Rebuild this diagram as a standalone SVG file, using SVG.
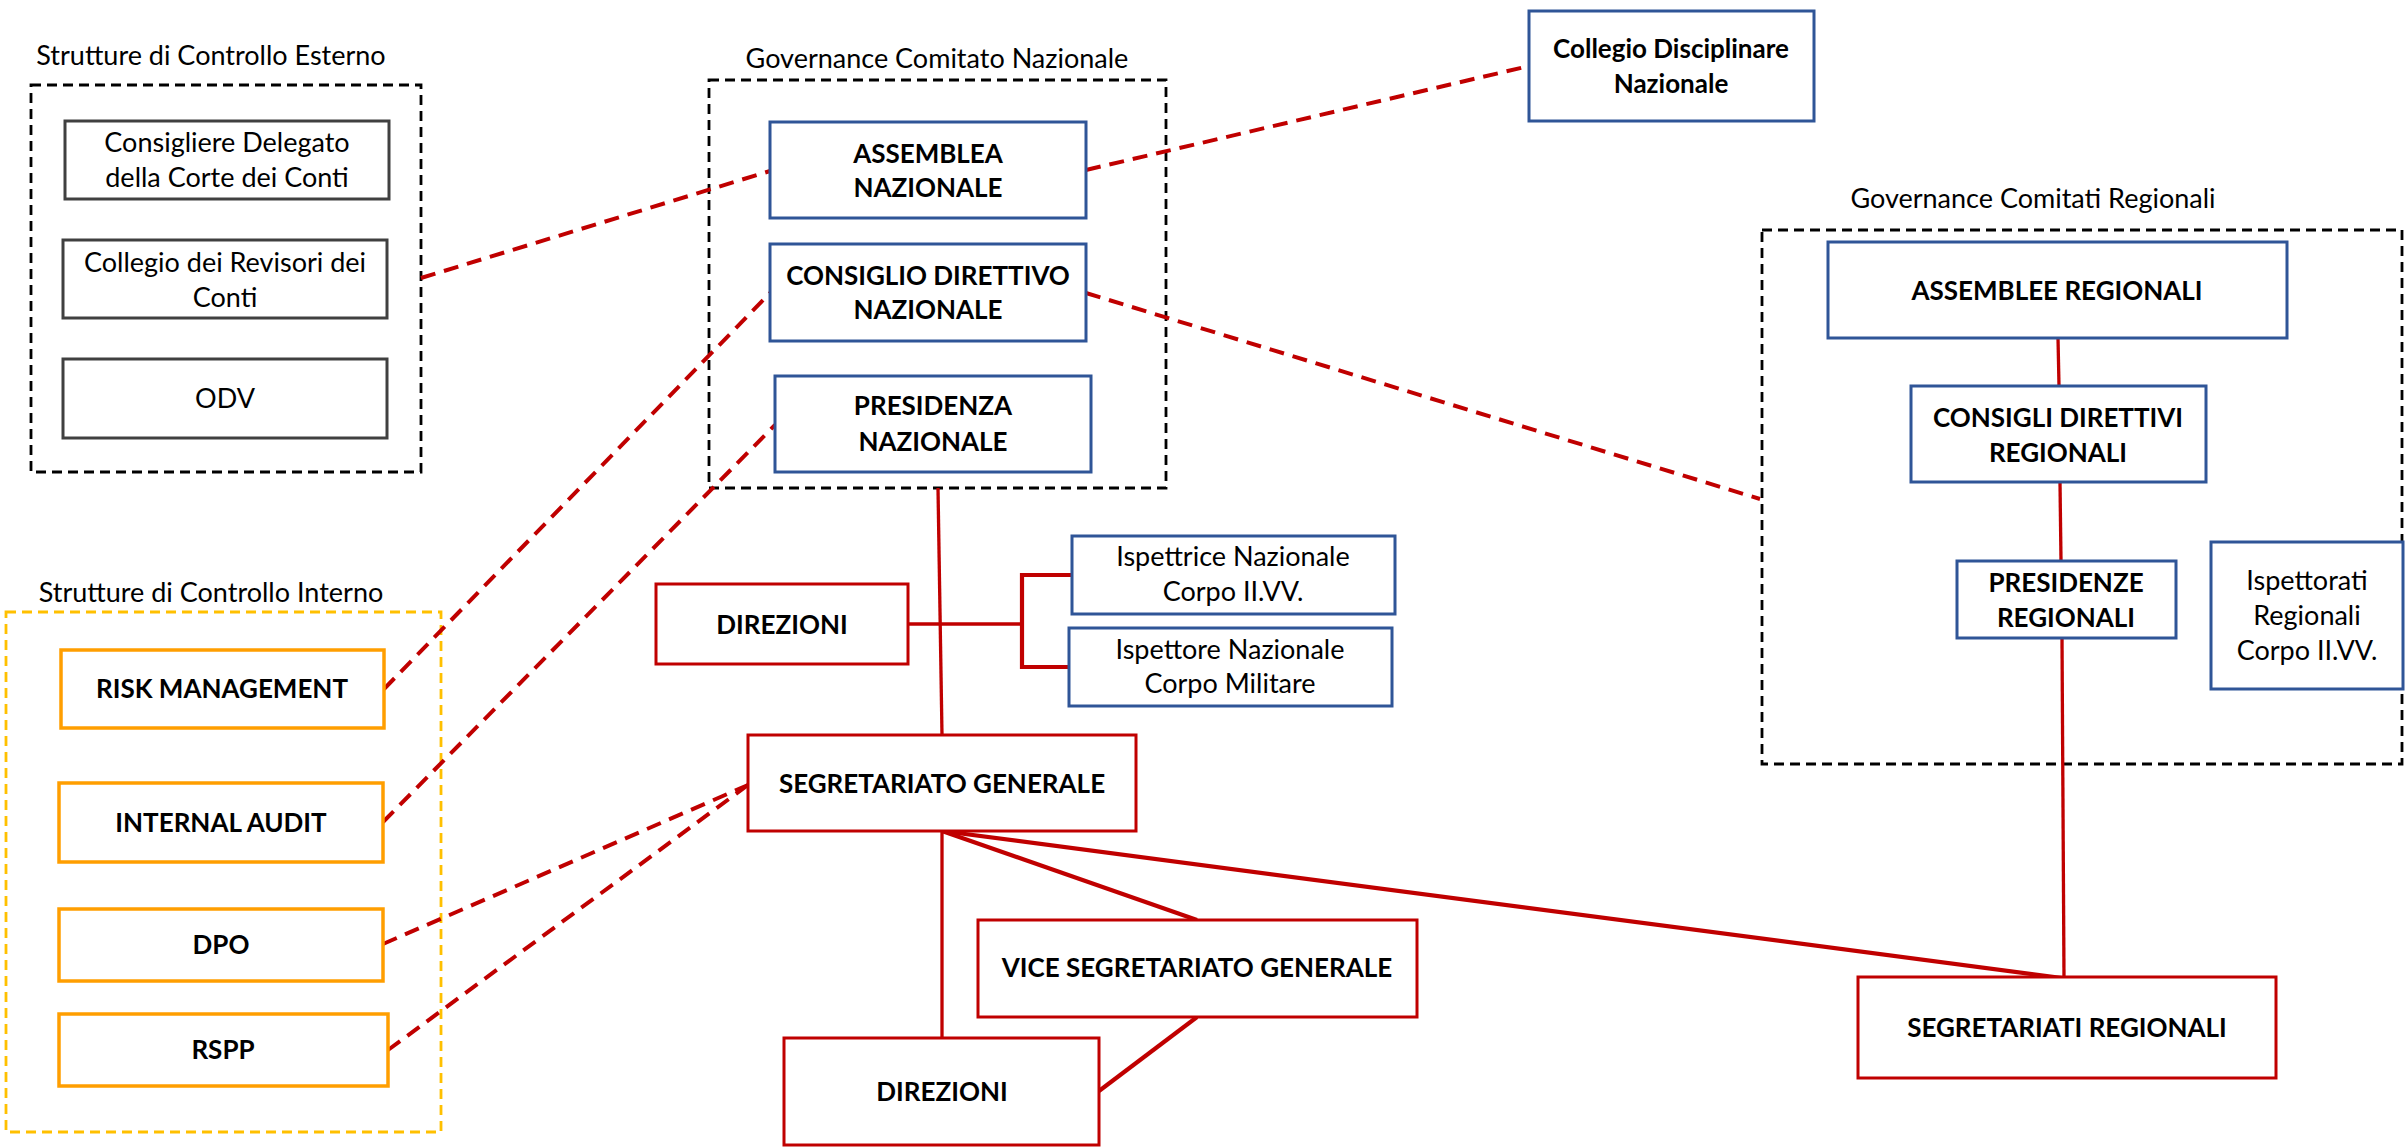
<svg xmlns="http://www.w3.org/2000/svg" width="2407" height="1147" viewBox="0 0 2407 1147">
<style>
text{font-family:Lato,"Liberation Sans",sans-serif;font-size:27px;fill:#000;text-anchor:middle}
.b{font-weight:bold;font-size:26px}
.grp{fill:none;stroke:#000;stroke-width:2.8;stroke-dasharray:10 6}
.grpy{fill:none;stroke:#FFC000;stroke-width:2.8;stroke-dasharray:10 6}
.gray{fill:#fff;stroke:#404040;stroke-width:3}
.blue{fill:#fff;stroke:#2F5597;stroke-width:3}
.red{fill:#fff;stroke:#C00000;stroke-width:3}
.orange{fill:#fff;stroke:#FF9E00;stroke-width:3.5}
.dash{fill:none;stroke:#C00000;stroke-width:4;stroke-dasharray:15 9}
.sol{fill:none;stroke:#C00000;stroke-width:3.3}
.thick{fill:none;stroke:#C00000;stroke-width:4.2}
</style>
<rect width="2407" height="1147" fill="#fff"/>
<g id="groups">
<g id="grp-esterno"><rect class="grp" x="31" y="85" width="390" height="387"/><text x="211" y="65">Strutture di Controllo Esterno</text></g>
<g id="grp-nazionale"><rect class="grp" x="709" y="80" width="457" height="408"/><text x="937" y="68">Governance Comitato Nazionale</text></g>
<g id="grp-regionali"><rect class="grp" x="1762" y="230" width="640" height="534"/><text x="2033" y="208">Governance Comitati Regionali</text></g>
<g id="grp-interno"><rect class="grpy" x="6" y="612" width="435" height="520"/><text x="211" y="602">Strutture di Controllo Interno</text></g>
</g>
<g id="connectors">
<line class="dash" x1="421" y1="278" x2="770" y2="171"/>
<line class="dash" x1="1086" y1="170" x2="1529" y2="66"/>
<line class="dash" x1="1086" y1="293" x2="1760" y2="499"/>
<line class="dash" x1="384" y1="689" x2="770" y2="293"/>
<line class="dash" x1="383" y1="822" x2="775" y2="425"/>
<line class="dash" x1="383" y1="944" x2="748" y2="785"/>
<line class="dash" x1="388" y1="1050" x2="748" y2="785"/>
<line class="sol" x1="938" y1="488" x2="942" y2="735"/>
<polyline class="sol" points="908,624 1022,624"/>
<polyline class="thick" points="1072,575 1022,575 1022,667 1069,667"/>
<line class="sol" x1="942" y1="831" x2="942" y2="1038"/>
<line class="thick" x1="942" y1="831" x2="1197" y2="920"/>
<line class="thick" x1="942" y1="831" x2="2062" y2="978"/>
<line class="thick" x1="1197" y1="1017" x2="1099" y2="1091"/>
<line class="sol" x1="2058" y1="338" x2="2059" y2="386"/>
<line class="sol" x1="2060" y1="482" x2="2061" y2="561"/>
<line class="sol" x1="2062" y1="638" x2="2064" y2="978"/>
</g>
<g id="n-corte"><rect class="gray" x="65" y="121" width="324" height="78"/><text x="227" y="152">Consigliere Delegato</text><text x="227" y="187">della Corte dei Conti</text></g>
<g id="n-revisori"><rect class="gray" x="63" y="240" width="324" height="78"/><text x="225" y="272">Collegio dei Revisori dei</text><text x="225" y="307">Conti</text></g>
<g id="n-odv"><rect class="gray" x="63" y="359" width="324" height="79"/><text x="225" y="408">ODV</text></g>
<g id="n-assemblea"><rect class="blue" x="770" y="122" width="316" height="96"/><text class="b" x="928" y="163">ASSEMBLEA</text><text class="b" x="928" y="197">NAZIONALE</text></g>
<g id="n-consiglio"><rect class="blue" x="770" y="244" width="316" height="97"/><text class="b" x="928" y="285">CONSIGLIO DIRETTIVO</text><text class="b" x="928" y="319">NAZIONALE</text></g>
<g id="n-presidenza"><rect class="blue" x="775" y="376" width="316" height="96"/><text class="b" x="933" y="415">PRESIDENZA</text><text class="b" x="933" y="451">NAZIONALE</text></g>
<g id="n-disciplinare"><rect class="blue" x="1529" y="11" width="285" height="110"/><text class="b" x="1671" y="58">Collegio Disciplinare</text><text class="b" x="1671" y="93">Nazionale</text></g>
<g id="n-assemblee-reg"><rect class="blue" x="1828" y="242" width="459" height="96"/><text class="b" x="2057" y="300">ASSEMBLEE REGIONALI</text></g>
<g id="n-consigli-reg"><rect class="blue" x="1911" y="386" width="295" height="96"/><text class="b" x="2058" y="427">CONSIGLI DIRETTIVI</text><text class="b" x="2058" y="462">REGIONALI</text></g>
<g id="n-presidenze-reg"><rect class="blue" x="1957" y="561" width="219" height="77"/><text class="b" x="2066" y="592">PRESIDENZE</text><text class="b" x="2066" y="627">REGIONALI</text></g>
<g id="n-ispettorati"><rect class="blue" x="2211" y="542" width="192" height="147"/><text x="2307" y="590">Ispettorati</text><text x="2307" y="625">Regionali</text><text x="2307" y="660">Corpo II.VV.</text></g>
<g id="n-risk"><rect class="orange" x="61" y="650" width="323" height="78"/><text class="b" x="222" y="698">RISK MANAGEMENT</text></g>
<g id="n-audit"><rect class="orange" x="59" y="783" width="324" height="79"/><text class="b" x="221" y="832">INTERNAL AUDIT</text></g>
<g id="n-dpo"><rect class="orange" x="59" y="909" width="324" height="72"/><text class="b" x="221" y="954">DPO</text></g>
<g id="n-rspp"><rect class="orange" x="59" y="1014" width="329" height="72"/><text class="b" x="223" y="1059">RSPP</text></g>
<g id="n-direzioni1"><rect class="red" x="656" y="584" width="252" height="80"/><text class="b" x="782" y="634">DIREZIONI</text></g>
<g id="n-ispettrice"><rect class="blue" x="1072" y="536" width="323" height="78"/><text x="1233" y="566">Ispettrice Nazionale</text><text x="1233" y="601">Corpo II.VV.</text></g>
<g id="n-ispettore"><rect class="blue" x="1069" y="628" width="323" height="78"/><text x="1230" y="659">Ispettore Nazionale</text><text x="1230" y="693">Corpo Militare</text></g>
<g id="n-segretariato"><rect class="red" x="748" y="735" width="388" height="96"/><text class="b" x="942" y="793">SEGRETARIATO GENERALE</text></g>
<g id="n-vice"><rect class="red" x="978" y="920" width="439" height="97"/><text class="b" x="1197" y="977">VICE SEGRETARIATO GENERALE</text></g>
<g id="n-direzioni2"><rect class="red" x="784" y="1038" width="315" height="107"/><text class="b" x="942" y="1101">DIREZIONI</text></g>
<g id="n-segr-reg"><rect class="red" x="1858" y="977" width="418" height="101"/><text class="b" x="2067" y="1037">SEGRETARIATI REGIONALI</text></g>
</svg>
